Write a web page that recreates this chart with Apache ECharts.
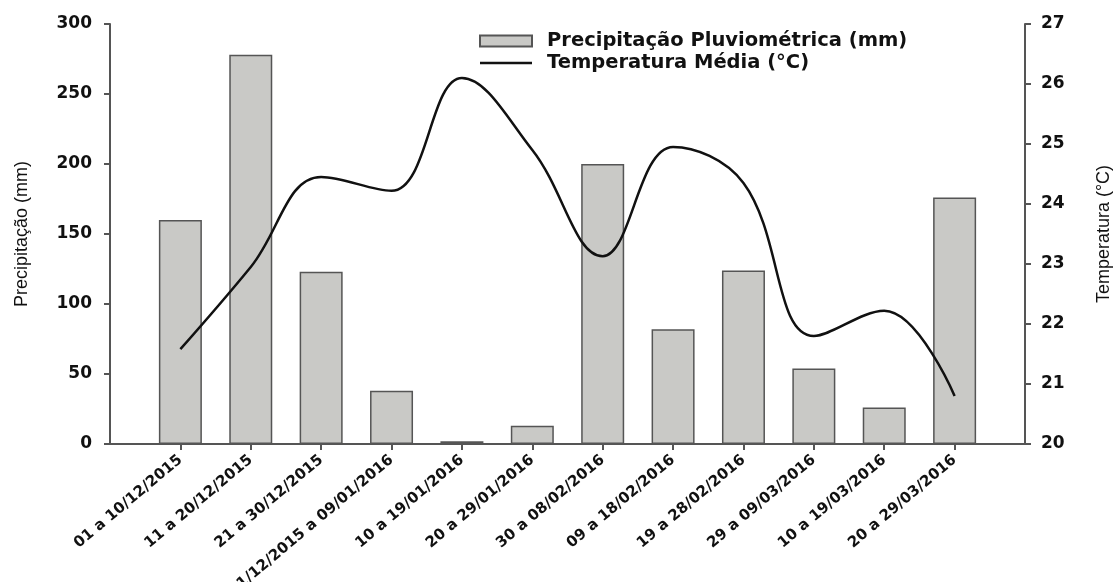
<!DOCTYPE html>
<html>
<head>
<meta charset="utf-8">
<script src="https://cdn.jsdelivr.net/npm/echarts@6/dist/echarts.min.js"></script>
<style>
html, body { margin: 0; padding: 0; background: #fff; }
#chart1 { width: 1117px; height: 582px; }
</style>
</head>
<body>
<div id="chart1"></div>
<script>
var periodos = ['01 a 10/12/2015', '11 a 20/12/2015', '21 a 30/12/2015', '31/12/2015 a 09/01/2016',
	'10 a 19/01/2016', '20 a 29/01/2016', '30 a 08/02/2016', '09 a 18/02/2016',
	'19 a 28/02/2016', '29 a 09/03/2016', '10 a 19/03/2016', '20 a 29/03/2016'];
var precipitacao = [160, 278, 123, 38, 2, 13, 200, 82, 124, 54, 26, 176];
var temperatura = [21.58, 22.95, 24.45, 24.22, 26.1, 24.9, 23.13, 24.95, 24.35, 21.8, 22.22, 20.8];
var ticksPrec = [0, 50, 100, 150, 200, 250, 300];
var ticksTemp = [20, 21, 22, 23, 24, 25, 26, 27];

var myChart1 = echarts.init(document.getElementById('chart1'));

var posicoes = [];
var dadosBarra = [];
var dadosLinha = [];
for(var i = 0; i < periodos.length; i++) {
	posicoes.push(i + 1);
	dadosBarra.push([i + 1, precipitacao[i]]);
	dadosLinha.push([i + 1, temperatura[i]]);
}

var eixoCor = '#555';
var fonteTick = {
	color: '#111',
	fontFamily: 'DejaVu Sans',
	fontWeight: 'bold',
	fontSize: 17
};

var option1 = {
	backgroundColor: '#fff',
	animation: false,
	legend: {
		orient: 'vertical',
		left: 474,
		top: 26,
		itemWidth: 52,
		itemHeight: 11,
		itemGap: 2,
		data: [{
			name: 'Precipitação Pluviométrica (mm)',
			icon: 'rect'
		}, {
			name: 'Temperatura Média (°C)',
			icon: 'path://M0,0H52V2.5H0Z'
		}],
		textStyle: {
			color: '#111',
			fontFamily: 'DejaVu Sans',
			fontWeight: 'bold',
			fontSize: 19.5,
			padding: [0, 0, 0, 10]
		}
	},
	grid: {
		left: 110,
		right: 92,
		top: 24,
		bottom: 138,
		outerBoundsMode: 'none'
	},
	xAxis: {
		type: 'value',
		min: 0,
		max: 13,
		splitLine: { show: false },
		axisLine: { lineStyle: { color: eixoCor, width: 2 } },
		axisTick: {
			customValues: posicoes,
			length: 6,
			lineStyle: { color: eixoCor, width: 2 }
		},
		axisLabel: {
			customValues: posicoes,
			rotate: 40,
			margin: 14,
			color: '#111',
			fontFamily: 'DejaVu Sans',
			fontWeight: 'bold',
			fontSize: 15,
			formatter: function(v) {
				return periodos[v - 1] || '';
			}
		}
	},
	yAxis: [{
			type: 'value',
			min: ticksPrec[0],
			max: ticksPrec[ticksPrec.length - 1],
			interval: 50,
			name: 'Precipitação (mm)',
			nameLocation: 'middle',
			nameRotate: 90,
			nameGap: 79,
			nameTextStyle: { color: '#111', fontFamily: 'Liberation Sans', fontSize: 18 },
			splitLine: { show: false },
			axisLine: { show: true, lineStyle: { color: eixoCor, width: 2 } },
			axisTick: { show: true, length: 6, lineStyle: { color: eixoCor, width: 2 } },
			axisLabel: Object.assign({ margin: 18 }, fonteTick)
		},
		{
			type: 'value',
			position: 'right',
			min: ticksTemp[0],
			max: ticksTemp[ticksTemp.length - 1],
			interval: 1,
			name: 'Temperatura (°C)',
			nameLocation: 'middle',
			nameRotate: 90,
			nameGap: 70,
			nameTextStyle: { color: '#111', fontFamily: 'Liberation Sans', fontSize: 18 },
			splitLine: { show: false },
			axisLine: { show: true, lineStyle: { color: eixoCor, width: 2 } },
			axisTick: { show: true, length: 6, lineStyle: { color: eixoCor, width: 2 } },
			axisLabel: Object.assign({ margin: 16 }, fonteTick)
		}
	],
	series: [{
			name: 'Precipitação Pluviométrica (mm)',
			type: 'bar',
			yAxisIndex: 0,
			barWidth: 43,
			data: dadosBarra,
			itemStyle: {
				color: '#c9c9c6',
				borderColor: '#555',
				borderWidth: 1.5
			}
		},
		{
			name: 'Temperatura Média (°C)',
			type: 'line',
			yAxisIndex: 1,
			smooth: 0.4,
			symbol: 'none',
			data: dadosLinha,
			lineStyle: { color: '#111', width: 2.5 },
			itemStyle: { color: '#111' }
		}
	]
};
myChart1.setOption(option1);
</script>
</body>
</html>
